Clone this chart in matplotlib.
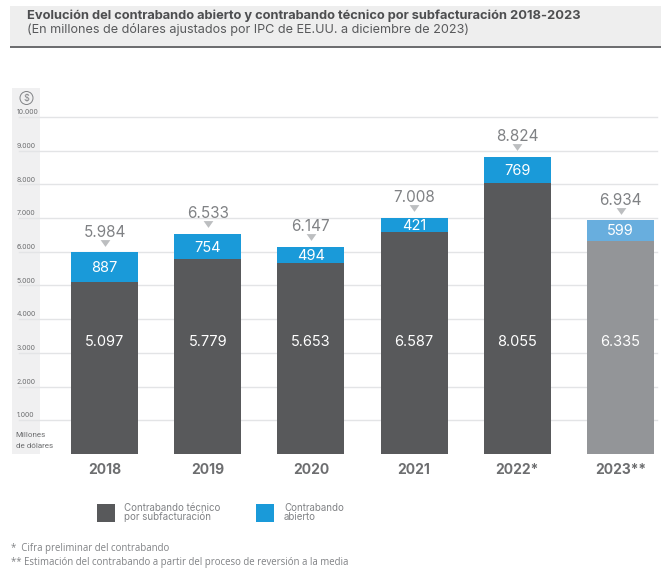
import matplotlib
matplotlib.use('Agg')
import matplotlib.pyplot as plt
from matplotlib.patches import Rectangle, Circle

W, H = 661, 569

years = ['2018', '2019', '2020', '2021', '2022*', '2023**']
tecnico = [5097, 5779, 5653, 6587, 8055, 6335]
abierto = [887, 754, 494, 421, 769, 599]
totales = [5984, 6533, 6147, 7008, 8824, 6934]
grid_vals = [1000, 2000, 3000, 4000, 5000, 6000, 7000, 8000, 9000, 10000]

DARK = '#58595b'
BLUE = '#1a9ad9'
DARK_EST = '#939598'
BLUE_EST = '#68aede'

FONT = ['Inter', 'DejaVu Sans']


def fmt(v):
    return f'{v:,}'.replace(',', '.')


def fx(x):
    return x / W


def fy(y):
    return 1 - y / H


def main():
    plt.rcParams['font.family'] = FONT
    fig = plt.figure(figsize=(W / 100, H / 100), dpi=100)

    # header and side band sit behind the axes
    fig.patches.append(Rectangle((fx(10), fy(46)), fx(651), 40 / H, transform=fig.transFigure,
                                 fc='#eeeeee', ec='none', zorder=0))
    fig.patches.append(Rectangle((fx(10), fy(47.5)), fx(651), 1.8 / H, transform=fig.transFigure,
                                 fc='#6d6e70', ec='none', zorder=0))
    fig.patches.append(Rectangle((fx(12), fy(454)), fx(28), 366 / H, transform=fig.transFigure,
                                 fc='#f0f0f1', ec='none', zorder=0))
    fig.patches.append(Circle((26.5, H - 98), 6.5, transform=None, fc='none', ec='#808285', lw=0.7, zorder=1))
    fig.text(fx(26.5), fy(98.5), '$', fontsize=6.5, color='#808285', ha='center', va='center')

    ax = fig.add_axes([0, fy(454), 1, 366 / H])
    ax.set_zorder(2)
    ax.patch.set_alpha(0)
    ax.set_xlim(-1.0126, 5.392)
    ax.set_ylim(0, 10860)
    ax.axis('off')

    x = list(range(len(years)))
    for v in grid_vals:
        ax.axhline(v, xmin=fx(19), xmax=fx(657), color='#e3e4e6', lw=1, zorder=1)
        ax.text(-0.85, v + 55, fmt(v), fontsize=5, color='#6d6e70', ha='left', va='bottom', zorder=3)

    bottom_colors = [DARK] * 5 + [DARK_EST]
    top_colors = [BLUE] * 5 + [BLUE_EST]
    ax.bar(x, tecnico, width=0.65, color=bottom_colors, zorder=2)
    ax.bar(x, abierto, width=0.65, bottom=tecnico, color=top_colors, zorder=2)

    tri = [(-1, 0.7), (1, 0.7), (0, -0.7)]
    for i in x:
        ax.text(i, 3320, fmt(tecnico[i]), color='white', fontsize=10.5,
                ha='center', va='center', zorder=3)
        ax.text(i, tecnico[i] + abierto[i] / 2 - 30, fmt(abierto[i]), color='white', fontsize=10.5,
                ha='center', va='center', zorder=3)
        ax.text(i, totales[i] + 370, fmt(totales[i]), color='#808285', fontsize=11,
                ha='center', va='bottom', zorder=3)
        ax.plot([i], [totales[i] + 280], marker=tri, ms=7, mfc='#bcbec0', mec='none',
                clip_on=False, zorder=3)
        ax.text(i, -460, years[i], color='#6d6e70', fontsize=10, fontweight='bold',
                ha='center', va='center', clip_on=False)

    fig.text(fx(27), fy(15.5), 'Evolución del contrabando abierto y contrabando técnico por subfacturación 2018-2023',
             fontsize=9.25, fontweight='bold', color='#4d4e50', va='center')
    fig.text(fx(27), fy(29.5), '(En millones de dólares ajustados por IPC de EE.UU. a diciembre de 2023)',
             fontsize=9.1, color='#58595b', va='center')

    ax.text(-0.86, 570, 'Millones', fontsize=5.8, color='#6d6e70', va='center',
            family=['Roboto', 'DejaVu Sans'], zorder=3)
    ax.text(-0.86, 230, 'de dólares', fontsize=5.8, color='#6d6e70', va='center',
            family=['Roboto', 'DejaVu Sans'], zorder=3)

    # legend drawn by hand to keep the swatches where they are in the original
    fig.patches.append(Rectangle((fx(97), fy(522)), 18 / W, 18 / H, transform=fig.transFigure,
                                 fc=DARK, ec='none'))
    fig.patches.append(Rectangle((fx(256), fy(522)), 18 / W, 18 / H, transform=fig.transFigure,
                                 fc=BLUE, ec='none'))
    fig.text(fx(124), fy(508), 'Contrabando técnico', fontsize=7, color='#808285', va='center')
    fig.text(fx(124), fy(517), 'por subfacturación', fontsize=7, color='#808285', va='center')
    fig.text(fx(284), fy(508), 'Contrabando', fontsize=7, color='#808285', va='center')
    fig.text(fx(284), fy(517), 'abierto', fontsize=7, color='#808285', va='center')

    fig.text(fx(11), fy(549), '*  Cifra preliminar del contrabando', fontsize=6.9, color='#808285',
             va='center', family=['Open Sans', 'DejaVu Sans'])
    fig.text(fx(11), fy(562), '** Estimación del contrabando a partir del proceso de reversión a la media',
             fontsize=6.9, color='#808285', va='center', family=['Open Sans', 'DejaVu Sans'])

    fig.savefig('out.png', dpi=100)


if __name__ == '__main__':
    main()
